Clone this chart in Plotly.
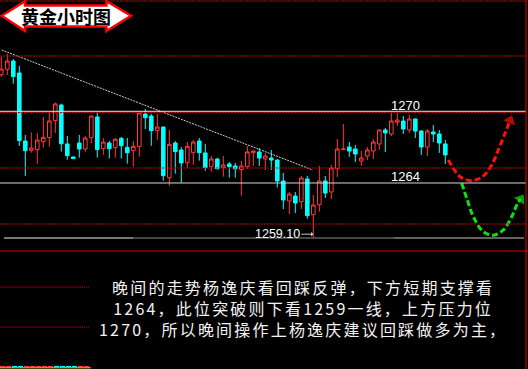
import plotly.graph_objects as go

# ---------------- data ----------------
idx = list(range(75))
opens = [1273.15, 1273.61, 1274.31, 1273.30, 1267.55, 1266.76, 1266.82, 1267.49, 1267.83, 1269.27,
         1270.59, 1267.30, 1266.20, 1267.38, 1266.87, 1267.83, 1269.58, 1266.90, 1267.38, 1266.99,
         1267.77, 1267.01, 1266.73, 1267.07, 1269.83, 1269.66, 1268.42, 1268.73, 1264.45, 1267.38,
         1266.79, 1265.72, 1266.56, 1267.55, 1266.54, 1265.38, 1266.03, 1265.30, 1265.61, 1265.44,
         1265.13, 1265.38, 1266.56, 1266.62, 1266.03, 1266.11, 1265.94, 1264.17, 1262.48, 1262.90,
         1262.42, 1264.34, 1261.32, 1262.17, 1264.17, 1263.24, 1265.21, 1266.82, 1267.04, 1266.87,
         1265.86, 1266.28, 1266.70, 1267.30, 1268.48, 1268.14, 1269.13, 1269.24, 1268.48, 1269.41,
         1268.39, 1267.04, 1268.31, 1268.14, 1267.30]
highs = [1274.68, 1274.90, 1274.48, 1273.89, 1268.06, 1268.28, 1268.23, 1269.58, 1269.92, 1270.79,
         1270.70, 1267.97, 1266.23, 1268.06, 1267.97, 1269.69, 1270.06, 1267.80, 1267.55, 1267.80,
         1267.89, 1267.80, 1267.55, 1270.00, 1270.25, 1269.83, 1269.83, 1268.76, 1268.48, 1267.55,
         1267.04, 1267.46, 1267.63, 1267.80, 1267.30, 1266.28, 1266.11, 1266.28, 1265.77, 1265.69,
         1265.86, 1267.13, 1266.72, 1266.96, 1266.54, 1266.79, 1266.03, 1264.85, 1263.24, 1263.24,
         1264.59, 1264.59, 1262.99, 1265.44, 1264.59, 1265.52, 1267.72, 1268.99, 1267.46, 1267.21,
         1266.70, 1267.04, 1267.72, 1268.51, 1268.65, 1270.00, 1270.00, 1269.66, 1269.75, 1269.44,
         1268.48, 1268.56, 1268.90, 1268.48, 1267.63]
lows = [1272.99, 1273.13, 1272.39, 1267.13, 1264.59, 1266.56, 1265.63, 1266.99, 1267.07, 1268.23,
        1266.65, 1265.97, 1266.03, 1266.14, 1266.65, 1267.38, 1266.14, 1266.39, 1266.06, 1266.14,
        1266.06, 1265.63, 1265.38, 1266.23, 1268.56, 1267.15, 1267.66, 1264.20, 1263.77, 1264.79,
        1264.03, 1265.24, 1265.55, 1265.89, 1265.04, 1264.96, 1265.13, 1264.54, 1264.45, 1264.45,
        1262.93, 1265.18, 1265.44, 1265.44, 1265.10, 1265.10, 1263.61, 1261.80, 1261.38, 1261.46,
        1261.80, 1260.99, 1259.38, 1261.58, 1262.73, 1262.65, 1264.51, 1266.79, 1266.20, 1265.77,
        1265.44, 1265.94, 1266.03, 1266.79, 1266.62, 1267.97, 1268.82, 1268.14, 1268.23, 1267.80,
        1266.37, 1266.28, 1267.46, 1266.54, 1265.61]
closes = [1273.63, 1274.31, 1272.99, 1267.58, 1266.73, 1266.96, 1267.63, 1267.86, 1269.24, 1270.68,
          1267.32, 1266.31, 1266.06, 1266.87, 1267.80, 1269.66, 1266.82, 1267.46, 1266.90, 1267.69,
          1267.15, 1266.56, 1267.10, 1269.92, 1269.52, 1268.42, 1268.73, 1264.62, 1267.27, 1266.65,
          1265.69, 1267.10, 1267.46, 1266.56, 1265.30, 1266.03, 1265.21, 1265.52, 1265.38, 1265.21,
          1265.44, 1266.62, 1266.70, 1266.11, 1266.28, 1265.94, 1264.17, 1262.56, 1263.07, 1262.31,
          1264.42, 1261.24, 1262.14, 1264.17, 1263.15, 1265.27, 1266.87, 1266.87, 1266.70, 1266.45,
          1266.11, 1266.79, 1267.46, 1268.48, 1268.23, 1269.24, 1269.32, 1268.56, 1269.41, 1268.39,
          1267.04, 1268.39, 1268.14, 1267.38, 1266.37]

resistance = 1270
support = 1264
support2 = 1259.35
level_labels = ["1270", "1264"]
low_label = "1259.10"
low_label_index = 52

trend_x = [0.07, 51.9]
trend_y = [1275.24, 1265.10]

red_path_x = [74.5, 75.33, 76.45, 78.4, 80.33, 81.73, 82.83, 83.95, 84.8]
red_path_y = [1265.94, 1265.24, 1264.53, 1264.19, 1264.59, 1265.52, 1266.79, 1268.2, 1269.3]
green_path_x = [76.73, 77.57, 78.67, 80.33, 82.0, 83.67, 85.07, 86.0, 86.55]
green_path_y = [1263.97, 1262.71, 1261.15, 1259.88, 1259.58, 1260.03, 1261.15, 1262.23, 1262.65]

title_text = "黄金小时图"
comment_lines = ["晚间的走势杨逸庆看回踩反弹，下方短期支撑看",
                 "1264，此位突破则下看1259一线，上方压力位",
                 "1270，所以晚间操作上杨逸庆建议回踩做多为主，"]
strip_colors = ['r', 'r', 'c', 'c', 'r', 'r', 'r', 'r', 'r', 'c', 'c', 'c', 'c', 'r', 'r']

# ---------------- figure ----------------
W, H = 528, 369
def PX(p): return p / W
def PY(p): return 1 - p / H

fig = go.Figure()

fig.add_trace(go.Candlestick(
    x=idx, open=opens, high=highs, low=lows, close=closes,
    increasing=dict(line=dict(color='#ff3b3b', width=1), fillcolor='#000000'),
    decreasing=dict(line=dict(color='#00ffff', width=1), fillcolor='#00ffff'),
    whiskerwidth=0, hoverinfo='skip'))

# trend line
fig.add_trace(go.Scatter(x=trend_x, y=trend_y, mode='lines',
                         line=dict(color='#cfcfcf', width=1, dash='2px,1px'), hoverinfo='skip'))

# projected paths
for px_, py_, col in [(red_path_x, red_path_y, '#ff1010'), (green_path_x, green_path_y, '#10e010')]:
    sizes = [0] * (len(px_) - 1) + [11]
    fig.add_trace(go.Scatter(x=px_, y=py_, mode='lines+markers', line_shape='spline',
                             line=dict(color=col, width=3, dash='6px,3px'),
                             marker=dict(size=sizes, color=col, symbol='triangle-up', angleref='previous',
                                         line=dict(width=0)),
                             hoverinfo='skip'))

shapes = []
# red dotted grid
for gy in [1, 56, 112.5, 168, 224]:
    shapes.append(dict(type='line', xref='paper', yref='paper', x0=0, x1=PX(526), y0=PY(gy), y1=PY(gy),
                       line=dict(color='#c80000', width=1, dash='2px,1px')))
# level lines
shapes.append(dict(type='line', xref='paper', yref='y', x0=0, x1=PX(526), y0=resistance + 0.06, y1=resistance + 0.06,
                   line=dict(color='#e6e6e6', width=1)))
shapes.append(dict(type='line', xref='paper', yref='y', x0=0, x1=PX(526), y0=support, y1=support,
                   line=dict(color='#d8d8d8', width=1)))
for a, b, c in [(4, 133, '#f2f2f2'), (133, 394, '#8c8c8c'), (394, 524, '#c4c4c4')]:
    shapes.append(dict(type='line', xref='paper', yref='y', x0=PX(a), x1=PX(b), y0=support2, y1=support2,
                       line=dict(color=c, width=1)))
# frame lines
shapes.append(dict(type='line', xref='paper', yref='paper', x0=0, x1=1, y0=PY(251), y1=PY(251),
                   line=dict(color='#e00000', width=1)))
shapes.append(dict(type='line', xref='paper', yref='paper', x0=PX(526), x1=PX(526), y0=0, y1=1,
                   line=dict(color='#e00000', width=1)))
# lower sub-window remnants
for gy in [287, 327]:
    shapes.append(dict(type='line', xref='paper', yref='paper', x0=0, x1=PX(90), y0=PY(gy), y1=PY(gy),
                       line=dict(color='#c80000', width=1, dash='1px,1px')))
shapes.append(dict(type='line', xref='paper', yref='paper', x0=0, x1=PX(90.7), y0=PY(367.8), y1=PY(367.8),
                   line=dict(color='#ffe600', width=1)))
for k, c in enumerate(strip_colors):
    shapes.append(dict(type='line', xref='paper', yref='paper', x0=PX(k * 6), x1=PX(k * 6 + 5),
                       y0=PY(366.5), y1=PY(366.5),
                       line=dict(color='#ff3b3b' if c == 'r' else '#00ffff', width=1.2)))
# title double arrow
pts = [(1.7, 15.7), (25, 1.2), (25, 5.5), (106.5, 5.5), (106.5, 1.2), (131, 15.7),
       (106.5, 31), (106.5, 26.5), (25, 26.5), (25, 31)]
path = 'M ' + ' L '.join(f'{PX(x):.5f},{PY(y):.5f}' for x, y in pts) + ' Z'
shapes.append(dict(type='path', xref='paper', yref='paper', path=path,
                   fillcolor='#ffffff', line=dict(color='#ff0000', width=2.5)))

annotations = []
annotations.append(dict(xref='paper', yref='paper', x=PX(66), y=PY(16), text='<b>' + title_text + '</b>',
                        showarrow=False, font=dict(family='Noto Sans CJK SC', size=18, color='#000000'),
                        xanchor='center', yanchor='middle'))
for lv, lab, ys in [(resistance, level_labels[0], 6.5), (support, level_labels[1], 6)]:
    annotations.append(dict(x=67.3, y=lv, text=lab, showarrow=False, yshift=ys,
                            font=dict(family='Liberation Sans, Arial', size=13, color='#ffffff'),
                            xanchor='center', yanchor='middle'))
annotations.append(dict(x=low_label_index, y=lows[low_label_index], text=low_label, showarrow=True,
                        ax=-36, ay=0, yshift=3.5, arrowhead=1, arrowsize=0.8, arrowwidth=1,
                        arrowcolor='#c8c8c8', standoff=0,
                        font=dict(family='Liberation Sans, Arial', size=12.5, color='#ffffff')))
comment = '<br>'.join(f"<span style='letter-spacing:2.2px'>{l}</span>" for l in comment_lines)
annotations.append(dict(xref='paper', yref='paper', x=PX(303), y=PY(308), text=comment, showarrow=False,
                        align='center', xanchor='center', yanchor='middle',
                        font=dict(family='Noto Sans CJK SC', size=16, color='#f2f2f2')))

fig.update_layout(
    width=W, height=H, margin=dict(l=0, r=0, t=0, b=0, pad=0),
    paper_bgcolor='#000000', plot_bgcolor='#000000', showlegend=False, boxgap=0.15,
    xaxis=dict(range=[-0.217, 87.78], visible=False, rangeslider=dict(visible=False), fixedrange=True),
    yaxis=dict(range=[1248.28, 1279.465], visible=False, fixedrange=True),
    shapes=shapes, annotations=annotations)

fig.write_html('out.html', config={'displayModeBar': False},
               post_script="document.body.style.margin='0';document.body.style.padding='0';"
                           "document.body.style.background='#000';document.body.style.overflow='hidden';")
